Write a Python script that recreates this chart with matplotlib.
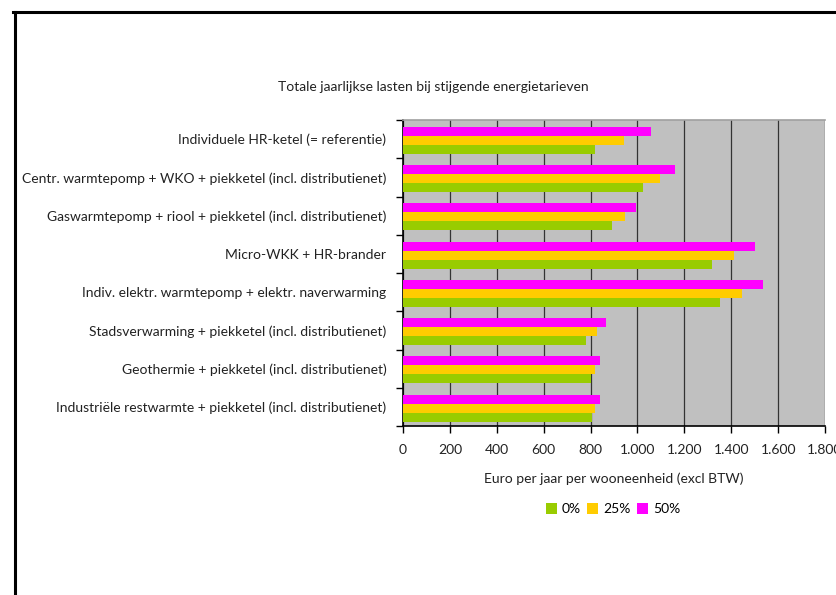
import matplotlib
matplotlib.use("Agg")
import matplotlib.pyplot as plt
import numpy as np
from matplotlib.patches import Patch
from matplotlib.lines import Line2D

categories = [
    "Individuele HR-ketel (= referentie)",
    "Centr. warmtepomp + WKO + piekketel (incl. distributienet)",
    "Gaswarmtepomp + riool + piekketel (incl. distributienet)",
    "Micro-WKK + HR-brander",
    "Indiv. elektr. warmtepomp + elektr. naverwarming",
    "Stadsverwarming + piekketel (incl. distributienet)",
    "Geothermie + piekketel (incl. distributienet)",
    "Industriële restwarmte + piekketel (incl. distributienet)",
]
series_labels = ["0%", "25%", "50%"]
values_0 = [821, 1023, 891, 1318, 1352, 779, 801, 806]
values_25 = [941, 1095, 947, 1411, 1445, 827, 819, 821]
values_50 = [1056, 1160, 994, 1502, 1536, 865, 840, 840]
x_ticks = [0, 200, 400, 600, 800, 1000, 1200, 1400, 1600, 1800]
x_tick_labels = ["0", "200", "400", "600", "800", "1.000", "1.200", "1.400", "1.600", "1.800"]

title = "Totale jaarlijkse lasten bij stijgende energietarieven"
xlabel = "Euro per jaar per wooneenheid (excl BTW)"

colors = ["#99cc00", "#ffcc00", "#ff00ff"]

plt.rcParams["font.family"] = ["Lato", "DejaVu Sans"]
plt.rcParams["font.size"] = 10

W, H = 836, 595
fig = plt.figure(figsize=(W / 100, H / 100), dpi=100)
fig.patch.set_facecolor("white")

# outer frame (top and left edges)
fig.add_artist(Line2D([13 / W, 1.0], [1 - 12 / H, 1 - 12 / H], color="black", lw=2.2,
                      transform=fig.transFigure))
fig.add_artist(Line2D([14.5 / W, 14.5 / W], [1 - 12 / H, 0], color="black", lw=2.2,
                      transform=fig.transFigure))

left, right, top, bottom = 403, 825, 120, 426
ax = fig.add_axes([left / W, 1 - bottom / H, (right - left) / W, (bottom - top) / H])
ax.set_facecolor("#c0c0c0")

n = len(categories)
pos = np.arange(n)
bh = 0.235
series = [values_0, values_25, values_50]
offsets = [bh, 0.0, -bh]
for vals, off, col, lab in zip(series, offsets, colors, series_labels):
    ax.barh(pos + off + 0.03, vals, height=bh, color=col, label=lab, zorder=3, linewidth=0)

ax.set_ylim(n - 0.5, -0.5)
ax.set_xlim(0, 1800)

ax.set_xticks(x_ticks)
ax.set_xticklabels(x_tick_labels, color="#222222")
ax.set_yticks(pos)
ax.set_yticklabels(categories, color="#222222")
ax.tick_params(axis="y", length=0, pad=12)
ax.set_yticks(np.arange(n + 1) - 0.5, minor=True)
ax.tick_params(axis="y", which="minor", length=5, width=1, color="black")
ax.tick_params(axis="x", length=5, width=1, color="black", pad=8)

ax.xaxis.grid(True, color="#333333", lw=0.9, zorder=1)
ax.set_axisbelow(True)

for s in ["left", "bottom"]:
    ax.spines[s].set_color("black")
    ax.spines[s].set_linewidth(1.2)
ax.spines["top"].set_color("#a0a0a0")
ax.spines["top"].set_linewidth(1.2)
ax.spines["right"].set_visible(False)

ax.set_xlabel(xlabel, color="#222222", labelpad=12)
fig.text(433 / W, 1 - 87 / H, title, ha="center", va="center", color="#222222")

handles = [Patch(facecolor=c, edgecolor="none", label=l) for c, l in zip(colors, series_labels)]
fig.legend(handles=handles, loc="center", bbox_to_anchor=(613 / W, 1 - 509 / H), ncol=3,
           frameon=False, handlelength=0.8, handleheight=0.8, handletextpad=0.35,
           columnspacing=0.45, fontsize=10)

fig.savefig("out.png", dpi=100, facecolor="white")
